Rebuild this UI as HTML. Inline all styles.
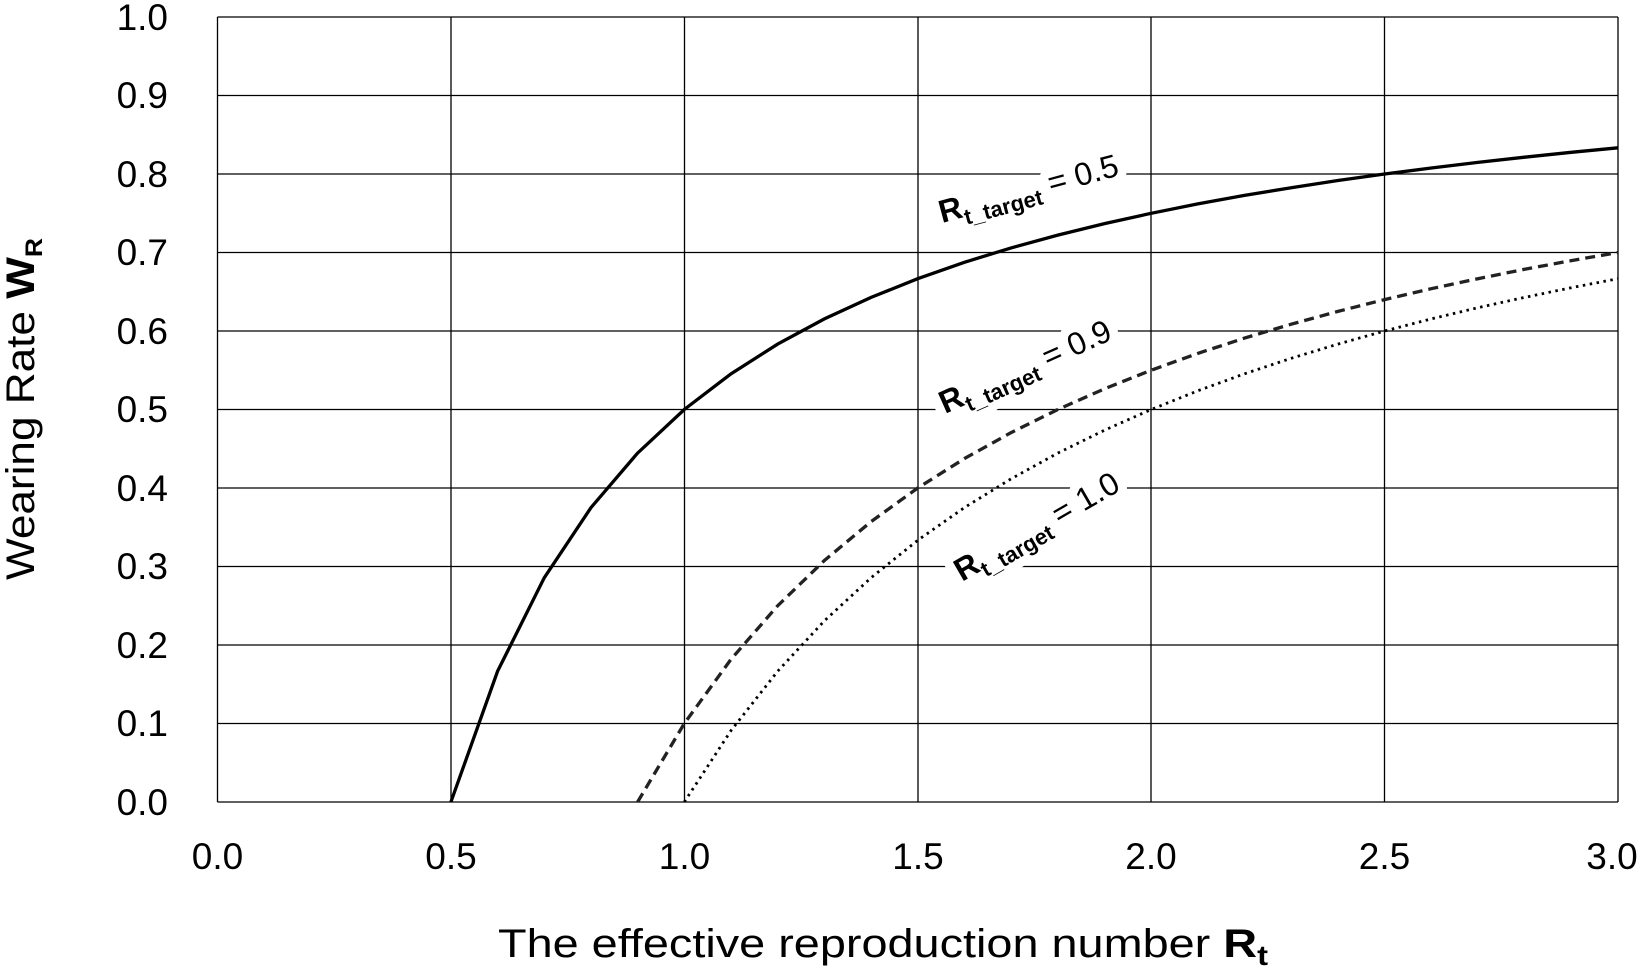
<!DOCTYPE html>
<html><head><meta charset="utf-8"><style>body{margin:0;background:#fff}svg{display:block}</style></head>
<body>
<svg width="1640" height="966" xmlns="http://www.w3.org/2000/svg" font-family="Liberation Sans, sans-serif">
<defs>
<g id="l1"><text transform="translate(942,223) rotate(-15)"><tspan font-weight="bold">R</tspan><tspan font-weight="bold" font-size="22" dy="8">t_target</tspan><tspan dy="-8"> = 0.5</tspan></text></g>
</defs>
<rect width="1640" height="966" fill="#fff"/>
<g stroke="#000" stroke-width="1.3">
<line x1="217.5" y1="802" x2="1618" y2="802"/><line x1="217.5" y1="723.5" x2="1618" y2="723.5"/><line x1="217.5" y1="645" x2="1618" y2="645"/><line x1="217.5" y1="566.5" x2="1618" y2="566.5"/><line x1="217.5" y1="488" x2="1618" y2="488"/><line x1="217.5" y1="409.5" x2="1618" y2="409.5"/><line x1="217.5" y1="331" x2="1618" y2="331"/><line x1="217.5" y1="252.5" x2="1618" y2="252.5"/><line x1="217.5" y1="174" x2="1618" y2="174"/><line x1="217.5" y1="95.5" x2="1618" y2="95.5"/><line x1="217.5" y1="17" x2="1618" y2="17"/>
<line x1="217.5" y1="17" x2="217.5" y2="802"/><line x1="451" y1="17" x2="451" y2="802"/><line x1="684.5" y1="17" x2="684.5" y2="802"/><line x1="918" y1="17" x2="918" y2="802"/><line x1="1151" y1="17" x2="1151" y2="802"/><line x1="1384.5" y1="17" x2="1384.5" y2="802"/><line x1="1618" y1="17" x2="1618" y2="802"/>
</g>
<g font-size="37" fill="#000" text-anchor="end">
<text x="168" y="815">0.0</text><text x="168" y="736">0.1</text><text x="168" y="658">0.2</text><text x="168" y="579">0.3</text><text x="168" y="501">0.4</text><text x="168" y="422">0.5</text><text x="168" y="344">0.6</text><text x="168" y="265">0.7</text><text x="168" y="187">0.8</text><text x="168" y="108">0.9</text><text x="168" y="30">1.0</text>
</g>
<g font-size="37" fill="#000" text-anchor="middle">
<text x="217.5" y="869">0.0</text><text x="451" y="869">0.5</text><text x="684.5" y="869">1.0</text><text x="918" y="869">1.5</text><text x="1151" y="869">2.0</text><text x="1384.5" y="869">2.5</text><text x="1612" y="869">3.0</text>
</g>
<text x="498" y="957" font-size="40" textLength="770" lengthAdjust="spacingAndGlyphs">The effective reproduction number <tspan font-weight="bold">R</tspan><tspan font-weight="bold" font-size="28" dy="8">t</tspan></text>
<text transform="translate(34,580) rotate(-90)" font-size="40" textLength="342" lengthAdjust="spacingAndGlyphs">Wearing Rate <tspan font-weight="bold">W</tspan><tspan font-weight="bold" font-size="24" dy="8">R</tspan></text>
<g font-size="32" fill="#fff" stroke="#fff" stroke-width="18" stroke-linejoin="round">
<text transform="translate(942,223) rotate(-15)"><tspan font-weight="bold">R</tspan><tspan font-weight="bold" font-size="22" dy="8">t_target</tspan><tspan dy="-8"> = 0.5</tspan></text>
<text transform="translate(945,414) rotate(-24)"><tspan font-weight="bold">R</tspan><tspan font-weight="bold" font-size="22" dy="8">t_target</tspan><tspan dy="-8"> = 0.9</tspan></text>
<text transform="translate(962,582) rotate(-30)"><tspan font-weight="bold">R</tspan><tspan font-weight="bold" font-size="22" dy="8">t_target</tspan><tspan dy="-8"> = 1.0</tspan></text>
</g>
<g font-size="32" fill="#000">
<text transform="translate(942,223) rotate(-15)"><tspan font-weight="bold">R</tspan><tspan font-weight="bold" font-size="22" dy="8">t_target</tspan><tspan dy="-8"> = 0.5</tspan></text>
<text transform="translate(945,414) rotate(-24)"><tspan font-weight="bold">R</tspan><tspan font-weight="bold" font-size="22" dy="8">t_target</tspan><tspan dy="-8"> = 0.9</tspan></text>
<text transform="translate(962,582) rotate(-30)"><tspan font-weight="bold">R</tspan><tspan font-weight="bold" font-size="22" dy="8">t_target</tspan><tspan dy="-8"> = 1.0</tspan></text>
</g>
<g fill="none" stroke="#000" stroke-width="3.3">
<polyline id="a"/><polyline id="b" stroke="#222" stroke-dasharray="10,6"/><polyline id="c" stroke-width="2.8" stroke-dasharray="2.5,4.5"/>
</g>
<script>
function pts(t){var s=[];for(var r=t;r<=3.0001;r+=0.1){var w=1-t/r;s.push((217.5+466.83*r).toFixed(1)+','+(802-785*w).toFixed(1));}return s.join(' ');}
document.getElementById('a').setAttribute('points',pts(0.5));
document.getElementById('b').setAttribute('points',pts(0.9));
document.getElementById('c').setAttribute('points',pts(1.0));
</script>
</svg>
</body></html>
